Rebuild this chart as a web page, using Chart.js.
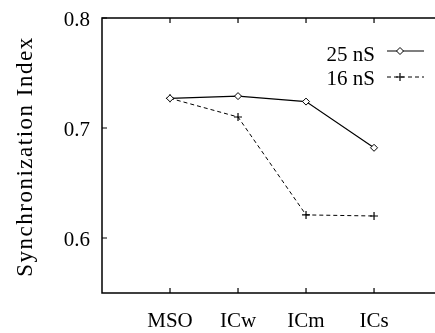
<!DOCTYPE html>
<html>
<head>
<meta charset="utf-8">
<script src="https://cdn.jsdelivr.net/npm/chart.js@4.4.1/dist/chart.umd.min.js"></script>
<style>
  html, body { margin: 0; padding: 0; background: #fff; }
  #wrap { width: 435px; height: 333px; }
</style>
</head>
<body>
<div id="wrap"><canvas id="sync"></canvas></div>
<script>
// categories on the x axis and the two conductance series
const cells = ['MSO', 'ICw', 'ICm', 'ICs'];
const sync25 = [0.727, 0.729, 0.724, 0.682];
const sync16 = [0.727, 0.710, 0.621, 0.620];
const yTicks = [0.6, 0.7, 0.8];
const seriesNames = ['25 nS', '16 nS'];
const yTitle = 'Synchronization Index';

const serif = "'Liberation Serif', 'Times New Roman', serif";

function toPoints(values) {
    return values.map((v, i) => ({ x: i, y: v }));
}

// axis box, inward ticks, tick labels, axis title and the legend
const frame = {
    id: 'frame',
    afterDraw(chart) {
        const ctx = chart.ctx;
        const a = chart.chartArea;
        const xs = chart.scales.x;
        const ys = chart.scales.y;
        const edge = chart.width;
        ctx.save();
        ctx.strokeStyle = '#000';
        ctx.fillStyle = '#000';
        ctx.lineWidth = 1.5;
        ctx.beginPath();
        ctx.moveTo(edge, a.top);
        ctx.lineTo(a.left, a.top);
        ctx.lineTo(a.left, a.bottom);
        ctx.lineTo(edge, a.bottom);
        ctx.stroke();

        ctx.lineWidth = 1.2;
        ctx.beginPath();
        cells.forEach((c, i) => {
            const px = xs.getPixelForValue(i);
            ctx.moveTo(px, a.bottom);
            ctx.lineTo(px, a.bottom - 5);
            ctx.moveTo(px, a.top);
            ctx.lineTo(px, a.top + 5);
        });
        yTicks.forEach(v => {
            const py = ys.getPixelForValue(v);
            ctx.moveTo(a.left, py);
            ctx.lineTo(a.left + 5, py);
        });
        ctx.stroke();

        ctx.font = '21px ' + serif;
        ctx.textAlign = 'center';
        ctx.textBaseline = 'alphabetic';
        cells.forEach((c, i) => {
            ctx.fillText(c, xs.getPixelForValue(i), a.bottom + 34);
        });
        ctx.textAlign = 'right';
        yTicks.forEach(v => {
            ctx.fillText(v.toFixed(1), a.left - 12, ys.getPixelForValue(v) + 8);
        });

        ctx.save();
        ctx.translate(26, (a.top + a.bottom) / 2 + 1);
        ctx.rotate(-Math.PI / 2);
        ctx.font = '23px ' + serif;
        ctx.letterSpacing = '1.5px';
        ctx.textAlign = 'center';
        ctx.textBaseline = 'middle';
        ctx.fillText(yTitle, 0, 0);
        ctx.restore();

        // legend: label, then a sample of the line with its marker
        const rows = [
            { y: 51, base: 61, ds: chart.data.datasets[0] },
            { y: 77, base: 85, ds: chart.data.datasets[1] }
        ];
        ctx.font = '21px ' + serif;
        ctx.textAlign = 'right';
        rows.forEach(r => {
            ctx.fillStyle = '#000';
            ctx.fillText(r.ds.label, 375, r.base);
            ctx.lineWidth = r.ds.borderWidth;
            ctx.setLineDash(r.ds.borderDash || []);
            ctx.beginPath();
            ctx.moveTo(387, r.y);
            ctx.lineTo(424, r.y);
            ctx.stroke();
            ctx.setLineDash([]);
            ctx.fillStyle = '#fff';
            ctx.lineWidth = r.ds.pointBorderWidth;
            Chart.helpers.drawPoint(ctx, {
                pointStyle: r.ds.pointStyle,
                radius: r.ds.pointRadius,
                borderWidth: r.ds.pointBorderWidth
            }, 400, r.y);
        });
        ctx.restore();
    }
};

new Chart(document.getElementById('sync'), {
    type: 'line',
    data: {
        datasets: [
            {
                label: seriesNames[0],
                data: toPoints(sync25),
                borderColor: '#000',
                borderWidth: 1.2,
                pointStyle: 'rectRot',
                pointRadius: 3.5,
                pointBorderWidth: 1,
                pointBackgroundColor: '#fff',
                pointBorderColor: '#000',
                tension: 0
            },
            {
                label: seriesNames[1],
                data: toPoints(sync16),
                borderColor: '#000',
                borderWidth: 1,
                borderDash: [4, 3],
                pointStyle: 'cross',
                pointRadius: 4,
                pointBorderWidth: 1.2,
                pointBorderColor: '#000',
                tension: 0
            }
        ]
    },
    options: {
        responsive: true,
        maintainAspectRatio: false,
        animation: false,
        layout: { padding: { top: 18, right: 0, left: 0, bottom: 0 } },
        plugins: {
            legend: { display: false },
            tooltip: { enabled: false }
        },
        scales: {
            x: {
                type: 'linear',
                min: -1,
                max: 3.82,
                afterBuildTicks: s => { s.ticks = cells.map((c, i) => ({ value: i })); },
                afterFit: s => { s.height = 40; },
                grid: { display: false, drawTicks: false },
                border: { display: false },
                ticks: { display: false }
            },
            y: {
                min: 0.55,
                max: 0.8,
                afterBuildTicks: s => { s.ticks = yTicks.map(v => ({ value: v })); },
                afterFit: s => { s.width = 102; },
                grid: { display: false, drawTicks: false },
                border: { display: false },
                ticks: { display: false }
            }
        }
    },
    plugins: [frame]
});
</script>
</body>
</html>
